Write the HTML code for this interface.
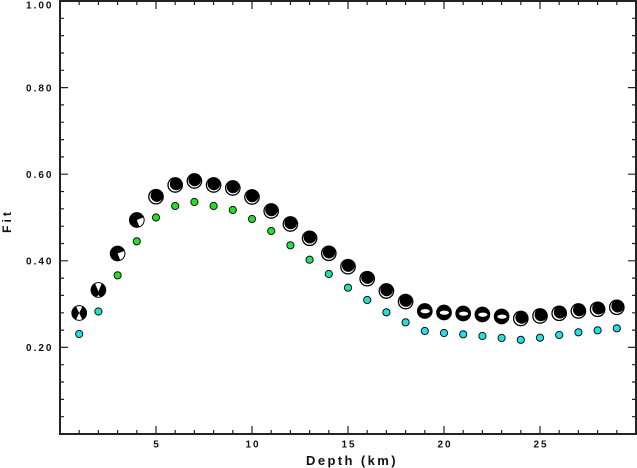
<!DOCTYPE html>
<html>
<head>
<meta charset="utf-8">
<style>
html,body{margin:0;padding:0;background:#fff;}
svg{display:block;}
text{font-family:"Liberation Sans",Arial,sans-serif;font-weight:bold;fill:#111;}
</style>
</head>
<body>
<svg width="637" height="468" viewBox="0 0 637 468" xmlns="http://www.w3.org/2000/svg">
<rect x="0" y="0" width="637" height="468" fill="#fff"/>
<rect x="60" y="1" width="576" height="433" fill="none" stroke="#222" stroke-width="2"/>
<g stroke="#222" stroke-width="1.2" fill="none">
<path d="M79.2,434v-4M98.4,434v-4M117.6,434v-4M136.8,434v-4M175.2,434v-4M194.4,434v-4M213.6,434v-4M232.8,434v-4M271.2,434v-4M290.4,434v-4M309.6,434v-4M328.8,434v-4M367.2,434v-4M386.4,434v-4M405.6,434v-4M424.8,434v-4M463.2,434v-4M482.4,434v-4M501.6,434v-4M520.8,434v-4M559.2,434v-4M578.4,434v-4M597.6,434v-4M616.8,434v-4"/>
<path d="M156,434v-8M252,434v-8M348,434v-8M444,434v-8M540,434v-8"/>
<path d="M79.2,1v4M98.4,1v4M117.6,1v4M136.8,1v4M175.2,1v4M194.4,1v4M213.6,1v4M232.8,1v4M271.2,1v4M290.4,1v4M309.6,1v4M328.8,1v4M367.2,1v4M386.4,1v4M405.6,1v4M424.8,1v4M463.2,1v4M482.4,1v4M501.6,1v4M520.8,1v4M559.2,1v4M578.4,1v4M597.6,1v4M616.8,1v4"/>
<path d="M156,1v8M252,1v8M348,1v8M444,1v8M540,1v8"/>
<path d="M60,416.7h4M60,399.4h4M60,382h4M60,364.7h4M60,330.1h4M60,312.8h4M60,295.4h4M60,278.1h4M60,243.5h4M60,226.2h4M60,208.8h4M60,191.5h4M60,156.9h4M60,139.6h4M60,122.2h4M60,104.9h4M60,70.3h4M60,53h4M60,35.6h4M60,18.3h4"/>
<path d="M60,347.4h8M60,260.8h8M60,174.2h8M60,87.6h8"/>
<path d="M636,416.7h-4M636,399.4h-4M636,382h-4M636,364.7h-4M636,330.1h-4M636,312.8h-4M636,295.4h-4M636,278.1h-4M636,243.5h-4M636,226.2h-4M636,208.8h-4M636,191.5h-4M636,156.9h-4M636,139.6h-4M636,122.2h-4M636,104.9h-4M636,70.3h-4M636,53h-4M636,35.6h-4M636,18.3h-4"/>
<path d="M636,347.4h-8M636,260.8h-8M636,174.2h-8M636,87.6h-8"/>
</g>
<g font-size="10" letter-spacing="2" text-anchor="end">
<text x="53.5" y="8.5">1.00</text>
<text x="53.5" y="91.3">0.80</text>
<text x="53.5" y="177.9">0.60</text>
<text x="53.5" y="264.5">0.40</text>
<text x="53.5" y="351.1">0.20</text>
</g>
<g font-size="10" letter-spacing="2" text-anchor="middle">
<text x="157" y="447.5">5</text>
<text x="253" y="447.5">10</text>
<text x="349" y="447.5">15</text>
<text x="445" y="447.5">20</text>
<text x="541" y="447.5">25</text>
</g>
<text x="352" y="465" font-size="13" letter-spacing="2.4" text-anchor="middle">Depth (km)</text>
<text transform="translate(11,221) rotate(-90)" font-size="12" letter-spacing="3" text-anchor="middle">Fit</text>

<g stroke="#111" stroke-width="1">
<circle cx="79.2" cy="334" r="3.6" fill="#22dcea"/>
<circle cx="98.4" cy="311.5" r="3.6" fill="#22e0c4"/>
<circle cx="117.6" cy="275.3" r="3.6" fill="#22e030"/>
<circle cx="136.8" cy="241.3" r="3.6" fill="#22e028"/>
<circle cx="156" cy="217.5" r="3.6" fill="#22e022"/>
<circle cx="175.2" cy="206" r="3.6" fill="#22e022"/>
<circle cx="194.4" cy="202" r="3.6" fill="#22e022"/>
<circle cx="213.6" cy="206" r="3.6" fill="#22e022"/>
<circle cx="232.8" cy="210" r="3.6" fill="#22e022"/>
<circle cx="252" cy="219" r="3.6" fill="#22e022"/>
<circle cx="271.2" cy="231" r="3.6" fill="#22e030"/>
<circle cx="290.4" cy="245.3" r="3.6" fill="#22e050"/>
<circle cx="309.6" cy="259.7" r="3.6" fill="#22e070"/>
<circle cx="328.8" cy="274" r="3.6" fill="#22e098"/>
<circle cx="348" cy="287.7" r="3.6" fill="#22e0b0"/>
<circle cx="367.2" cy="300" r="3.6" fill="#22e0c8"/>
<circle cx="386.4" cy="312.3" r="3.6" fill="#22e0d8"/>
<circle cx="405.6" cy="322.3" r="3.6" fill="#22e0e6"/>
<circle cx="424.8" cy="331" r="3.6" fill="#22e0ea"/>
<circle cx="444" cy="333" r="3.6" fill="#22e0ea"/>
<circle cx="463.2" cy="334.3" r="3.6" fill="#22e0ea"/>
<circle cx="482.4" cy="336" r="3.6" fill="#22e0ea"/>
<circle cx="501.6" cy="338" r="3.6" fill="#22e0ea"/>
<circle cx="520.8" cy="339.8" r="3.6" fill="#22e0ea"/>
<circle cx="540" cy="337.7" r="3.6" fill="#22e0ea"/>
<circle cx="559.2" cy="335" r="3.6" fill="#22e0ea"/>
<circle cx="578.4" cy="332.3" r="3.6" fill="#22e0ea"/>
<circle cx="597.6" cy="330.3" r="3.6" fill="#22e0ea"/>
<circle cx="616.8" cy="328.3" r="3.6" fill="#22e0ea"/>
</g>

<defs>
<g id="ba">
<circle r="7.2" fill="#fff" stroke="#000" stroke-width="1.3"/>
<circle cx="0.3" cy="-1.1" r="6.3" fill="#000"/>
</g>
<g id="ba2">
<circle r="7.2" fill="#fff" stroke="#000" stroke-width="1.3"/>
<circle cx="0.9" cy="-1.1" r="6.3" fill="#000"/>
</g>
<g id="bb">
<circle r="7.2" fill="#000" stroke="#000" stroke-width="1.3"/>
<ellipse cx="0.4" cy="0.2" rx="4.6" ry="2.1" fill="#fff"/>
</g>
<g id="bc">
<circle r="7.2" fill="#000" stroke="#000" stroke-width="1.3"/>
<path d="M0,0 L6.4,-2.5 A6.9,6.9 0 0 1 2.5,6.4 Z" fill="#fff"/>
</g>
<g id="bd">
<circle r="7.2" fill="#000" stroke="#000" stroke-width="1.3"/>
<path d="M0,0 L-3,-6.2 A6.9,6.9 0 0 1 3,-6.2 Z M0,0 L-3,6.2 A6.9,6.9 0 0 0 3,6.2 Z" fill="#fff"/>
</g>
<g id="be">
<circle r="7.2" fill="#000" stroke="#000" stroke-width="1.3"/>
<path d="M0,1.5 L-3.2,-6.1 A6.9,6.9 0 0 1 3.2,-6.1 Z M-1.8,6.6 A6.9,6.9 0 0 0 1.8,6.6 L0,5 Z" fill="#fff"/>
</g>
</defs>
<use href="#bd" x="79.2" y="313"/>
<use href="#be" x="98.4" y="290"/>
<use href="#bc" x="117.6" y="253.5"/>
<use href="#bc" x="136.8" y="220"/>
<use href="#ba2" x="156" y="196.7"/>
<use href="#ba2" x="175.2" y="185"/>
<use href="#ba" x="194.4" y="181"/>
<use href="#ba" x="213.6" y="185"/>
<use href="#ba" x="232.8" y="188"/>
<use href="#ba" x="252" y="197"/>
<use href="#ba" x="271.2" y="211"/>
<use href="#ba" x="290.4" y="224"/>
<use href="#ba" x="309.6" y="238.3"/>
<use href="#ba" x="328.8" y="253.3"/>
<use href="#ba" x="348" y="266.7"/>
<use href="#ba" x="367.2" y="278.7"/>
<use href="#ba" x="386.4" y="291"/>
<use href="#ba" x="405.6" y="301.6"/>
<use href="#bb" x="424.8" y="311"/>
<use href="#bb" x="444" y="312.5"/>
<use href="#bb" x="463.2" y="313.5"/>
<use href="#bb" x="482.4" y="314.5"/>
<use href="#bb" x="501.6" y="316.5"/>
<use href="#ba2" x="520.8" y="318.5"/>
<use href="#ba2" x="540" y="316"/>
<use href="#ba2" x="559.2" y="313.3"/>
<use href="#ba2" x="578.4" y="311"/>
<use href="#ba2" x="597.6" y="309.3"/>
<use href="#ba2" x="616.8" y="307.3"/>
</svg>
</body>
</html>
